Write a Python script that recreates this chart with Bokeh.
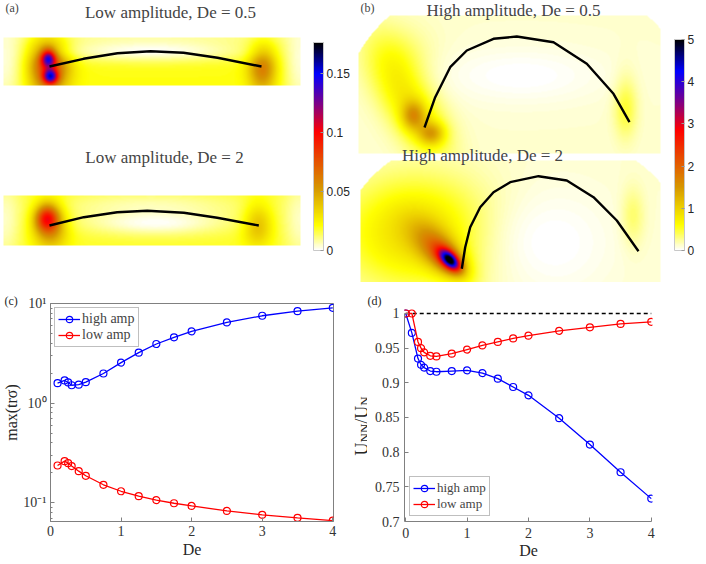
import numpy as np
from bokeh.plotting import figure
from bokeh.models import (LinearColorMapper, ColorBar, FixedTicker, CustomJSTickFormatter,
                          Label, Range1d, Title)
from bokeh.layouts import column, row
from bokeh.embed import file_html
from bokeh.resources import INLINE

# ---------------- data: panel (c) ----------------
de_c = [0.1, 0.2, 0.25, 0.3, 0.4, 0.5, 0.75, 1, 1.25, 1.5, 1.75, 2, 2.5, 3, 3.5, 4]
trs_high = [1.585, 1.686, 1.61, 1.51, 1.53, 1.62, 1.98, 2.55, 3.21, 3.92, 4.57, 5.25,
            6.46, 7.53, 8.38, 9.05]
trs_low = [0.236, 0.261, 0.249, 0.233, 0.207, 0.186, 0.151, 0.130, 0.116, 0.106, 0.0985,
           0.0926, 0.0825, 0.0753, 0.0703, 0.066]
# ---------------- data: panel (d) ----------------
de_d = [0, 0.1, 0.2, 0.25, 0.3, 0.4, 0.5, 0.75, 1, 1.25, 1.5, 1.75, 2, 2.5, 3, 3.5, 4]
u_high = [1.0, 0.972, 0.935, 0.926, 0.922, 0.917, 0.916, 0.917, 0.918, 0.914, 0.906,
          0.894, 0.882, 0.849, 0.811, 0.771, 0.733]
u_low = [1.0, 1.0, 0.959, 0.950, 0.944, 0.939, 0.938, 0.942, 0.948, 0.954, 0.959,
         0.964, 0.968, 0.975, 0.980, 0.985, 0.988]
newtonian = 1.0
series_names = ["high amp", "low amp"]

# ---------------- filament shapes (panel coordinates) ----------------
fil_a1_x = [41, 75, 109, 142, 175, 209, 253]
fil_a1_y = [226, 233.7, 239.3, 241.3, 239.7, 234.7, 226]
fil_a2_x = [41, 75.3, 108.7, 138.7, 175.3, 208.7, 250.3]
fil_a2_y = [67, 75.3, 80.3, 81.7, 79.7, 74.7, 67]
fil_b1_x = [71, 81.7, 96.7, 113.3, 140, 163.3, 200, 233.3, 260, 276]
fil_b1_y = [165, 195.3, 225.3, 242, 253.7, 256, 250.3, 228.7, 198.7, 170.3]
fil_b2_x = [108.3, 111.7, 116.7, 126.7, 140, 156.7, 185, 213.3, 240, 263.3, 285]
fil_b2_y = [23.7, 45.3, 65.3, 85.3, 100.3, 110.3, 116.3, 112, 95.3, 72, 41.3]

# ---------------- stress fields: (cx, cy, amp, sx, sy, angle_deg) ----------------
a1_box = (-5, 292, 207, 255)
a1_base = 0.02
a1_peaks = [(40, 230, 0.065, 14, 22, 0), (40, 235, 0.10, 5, 6, 0), (42, 216, 0.085, 5, 5, 0),
            (254, 226, 0.042, 10, 18, 0)]
a1_holes = [(142, 242, 0.95, 70, 8), (142, 256, 0.5, 140, 7), (-4, 231, 0.8, 14, 40),
            (292, 231, 0.8, 12, 40)]

a2_box = (-5, 292, 47, 97)
a2_base = 0.018
a2_peaks = [(39, 75, 0.07, 8, 9, 0), (42, 67, 0.04, 12, 16, 0), (249, 69, 0.027, 10, 15, 0)]
a2_holes = [(147, 70, 0.95, 50, 9), (142, 87, 0.6, 70, 10), (-4, 72, 0.7, 12, 30),
            (292, 72, 0.7, 12, 30)]

b1_box = (5, 307, 139, 277)
b1_shape = (165, 182, 175, 140)
b1_base = 0.12
b1_peaks = [(57, 190, 0.7, 45, 18, -62), (60, 177, 0.9, 8, 10, 0), (78, 159, 0.9, 9, 8, 0),
            (272, 187, 0.4, 8, 22, 0), (47, 232, 0.2, 25, 25, 0)]
b1_holes = [(168, 217, 1.0, 60, 20)]

b2_box = (7, 307, 10, 132)
b2_shape = (160, 52, 170, 115)
b2_base = 0.12
b2_peaks = [(62, 60, 0.8, 50, 38, 0), (88, 40, 1.2, 24, 12, -45), (95, 33, 1.3, 12, 7, -45),
            (97, 32, 2.8, 8, 4.5, -45), (279, 75, 0.3, 8, 20, 0)]
b2_holes = [(200, 50, 1.0, 45, 40)]

cbar_a = (0.0, 0.176, [0, 0.05, 0.1, 0.15])
cbar_b = (0.0, 5.0, [0, 1, 2, 3, 4, 5])

# ---------------- helpers ----------------
SERIF = "Liberation Serif"
SANS = "Liberation Sans"
stops = [(0.0, (255, 255, 255)), (0.12, (255, 255, 0)), (0.30, (214, 150, 0)),
         (0.45, (232, 70, 0)), (0.57, (255, 0, 0)), (0.70, (130, 0, 130)),
         (0.85, (0, 0, 255)), (1.0, (0, 0, 0))]


def make_palette(n=256):
    fr = np.array([s[0] for s in stops])
    cols = np.array([s[1] for s in stops], dtype=float)
    t = np.linspace(0, 1, n)
    out = []
    for i in range(n):
        rgb = [int(round(np.interp(t[i], fr, cols[:, k]))) for k in range(3)]
        out.append("#%02x%02x%02x" % tuple(rgb))
    return out


PAL = make_palette()


def make_field(box, base, peaks, holes, shape=None):
    x0, x1, y0, y1 = box
    xs = np.arange(x0, x1) + 0.5
    ys = np.arange(y0, y1) + 0.5
    X, Y = np.meshgrid(xs, ys)
    Z = np.full(X.shape, base, dtype=float)
    for cx, cy, amp, sx, sy, ang in peaks:
        a = np.deg2rad(ang)
        dx, dy = X - cx, Y - cy
        u = dx * np.cos(a) + dy * np.sin(a)
        v = -dx * np.sin(a) + dy * np.cos(a)
        Z += amp * np.exp(-(u ** 2 / (2 * sx ** 2) + v ** 2 / (2 * sy ** 2)))
    for cx, cy, depth, sx, sy in holes:
        Z *= 1 - depth * np.exp(-((X - cx) ** 2 / (2 * sx ** 2) + (Y - cy) ** 2 / (2 * sy ** 2)))
    if shape is not None:
        cx, cy, ax, ay = shape
        Z[((X - cx) / ax) ** 2 + ((Y - cy) / ay) ** 2 > 1] = np.nan
    return Z


def draw_field(p, box, Z, mapper):
    x0, x1, y0, y1 = box
    p.image(image=[Z], x=x0, y=y0, dw=x1 - x0, dh=y1 - y0, color_mapper=mapper)


def canvas(w, h, xr, yr, top=0, bottom=0):
    p = figure(width=w, height=h, x_range=Range1d(*xr), y_range=Range1d(*yr),
               x_axis_location=None, y_axis_location=None, toolbar_location=None,
               output_backend="svg", min_border=0, min_border_top=top,
               min_border_bottom=bottom, title=None)
    p.grid.visible = False
    p.outline_line_color = None
    return p


def add_cbar(p, mapper, ticks, loc, height, fmt):
    cb = ColorBar(color_mapper=mapper, location=loc, width=10, height=height,
                  padding=0, margin=0, ticker=FixedTicker(ticks=ticks),
                  formatter=CustomJSTickFormatter(code=fmt),
                  major_label_text_font=SANS, major_label_text_font_size="12px",
                  major_label_text_color="#262626", label_standoff=3,
                  major_tick_line_color="#999999", major_tick_in=3, major_tick_out=0,
                  bar_line_color="#c8c8c8", border_line_color=None,
                  background_fill_color=None)
    p.add_layout(cb)


map_a = LinearColorMapper(palette=PAL, low=cbar_a[0], high=cbar_a[1], nan_color=(0, 0, 0, 0))
map_b = LinearColorMapper(palette=PAL, low=cbar_b[0], high=cbar_b[1], nan_color=(0, 0, 0, 0))

TOP_H = 282
# ---------------- panel (a) ----------------
fa = canvas(353, TOP_H, (-8, 345), (10, 292))
draw_field(fa, a1_box, make_field(a1_box, a1_base, a1_peaks, a1_holes), map_a)
draw_field(fa, a2_box, make_field(a2_box, a2_base, a2_peaks, a2_holes), map_a)
fa.line(fil_a1_x, fil_a1_y, line_color="black", line_width=2.4)
fa.line(fil_a2_x, fil_a2_y, line_color="black", line_width=2.4)
fa.add_layout(Label(x=162, y=280, text="Low amplitude, De = 0.5", text_font=SERIF,
                    text_font_size="17px", text_align="center", text_baseline="middle"))
fa.add_layout(Label(x=156, y=135, text="Low amplitude, De = 2", text_font=SERIF,
                    text_font_size="17px", text_align="center", text_baseline="middle"))
fa.add_layout(Label(x=-3, y=284.5, text="(a)", text_font=SERIF, text_font_size="12px",
                    text_align="left", text_baseline="middle"))
add_cbar(fa, map_a, cbar_a[2], (313, 32), 208,
         "return tick === 0 ? '0' : String(Math.round(tick*100)/100);")

# ---------------- panel (b) ----------------
fb = canvas(353, TOP_H, (0, 353), (10, 292))
draw_field(fb, b1_box, make_field(b1_box, b1_base, b1_peaks, b1_holes, b1_shape), map_b)
draw_field(fb, b2_box, make_field(b2_box, b2_base, b2_peaks, b2_holes, b2_shape), map_b)
fb.line(fil_b1_x, fil_b1_y, line_color="black", line_width=2.4)
fb.line(fil_b2_x, fil_b2_y, line_color="black", line_width=2.4)
fb.add_layout(Label(x=160, y=282, text="High amplitude, De = 0.5", text_font=SERIF,
                    text_font_size="17px", text_align="center", text_baseline="middle"))
fb.add_layout(Label(x=129, y=137, text="High amplitude, De = 2", text_font=SERIF,
                    text_font_size="17px", text_align="center", text_baseline="middle"))
fb.add_layout(Label(x=7, y=284.5, text="(b)", text_font=SERIF, text_font_size="12px",
                    text_align="left", text_baseline="middle"))
add_cbar(fb, map_b, cbar_b[2], (321, 32), 211, "return String(tick);")


# ---------------- axes styling ----------------
def style_axes(p, tick_size):
    for ax in p.axis:
        ax.axis_line_color = "#808080"
        ax.major_tick_line_color = "#808080"
        ax.minor_tick_line_color = "#808080"
        ax.major_tick_in = 4
        ax.major_tick_out = 0
        ax.minor_tick_in = 2
        ax.minor_tick_out = 0
        ax.major_label_text_font = SERIF
        ax.major_label_text_font_size = tick_size
        ax.major_label_text_color = "#333333"
        ax.axis_label_text_font = SERIF
        ax.axis_label_text_font_size = "16px"
        ax.axis_label_text_font_style = "normal"
        ax.axis_label_text_color = "#262626"
    p.grid.visible = False


def style_legend(p, loc, size, margin):
    lg = p.legend[0]
    lg.location = loc
    lg.margin = margin
    lg.padding = 3
    lg.spacing = 0
    lg.label_text_font = SERIF
    lg.label_text_font_size = size
    lg.label_height = 16
    lg.glyph_height = 16
    lg.glyph_width = 22
    lg.label_standoff = 2
    lg.border_line_color = "#808080"
    lg.background_fill_alpha = 1.0


def panel_title(text, offset):
    return Title(text=text, align="left", offset=offset, standoff=-9,
                 text_font=SERIF, text_font_size="12px", text_font_style="normal",
                 text_color="#262626")


colors = ["#0000ff", "#ff0000"]
BOT_H = 564 - TOP_H
B_TOP, B_BOT = 21, 43   # shared frame borders of the lower row

# ---------------- panel (c) ----------------
fc = figure(width=345, height=BOT_H, y_axis_type="log", x_range=Range1d(0, 4.01),
            y_range=Range1d(0.0646, 10), min_border_left=49, min_border_right=12,
            min_border_top=B_TOP, min_border_bottom=B_BOT, toolbar_location=None,
            output_backend="svg", title=panel_title("(c)", -46))
for ys, c, nm in zip([trs_high, trs_low], colors, series_names):
    fc.line(de_c, ys, line_color=c, line_width=1.3, legend_label=nm)
    fc.scatter(de_c, ys, marker="circle", size=7, fill_color=None, line_color=c,
               line_width=1.2, legend_label=nm)
fc.xaxis.ticker = FixedTicker(ticks=[0, 1, 2, 3, 4])
fc.yaxis.ticker = FixedTicker(ticks=[0.1, 1, 10],
                              minor_ticks=[0.07, 0.08, 0.09, 0.2, 0.3, 0.4, 0.5, 0.6, 0.7,
                                           0.8, 0.9, 2, 3, 4, 5, 6, 7, 8, 9])
fc.yaxis.formatter = CustomJSTickFormatter(code="""
const e = Math.round(Math.log10(tick));
const s = {'-1': '\u207b\u00b9', '0': '\u2070', '1': '\u00b9'};
return '10' + s[String(e)];""")
fc.xaxis.axis_label = "De"
fc.yaxis.axis_label = "max(trσ)"
style_axes(fc, "14px")
fc.xaxis.major_label_standoff = 4
fc.xaxis.axis_label_standoff = 2
fc.yaxis.major_label_standoff = 4
fc.yaxis.axis_label_standoff = 0
fc.xaxis.minor_tick_line_color = None
fc.outline_line_color = "#808080"
style_legend(fc, "top_left", "14px", 4)

# ---------------- y label strip for panel (d): U_NN / U_N ----------------
fl = canvas(22, BOT_H, (0, 22), (B_BOT, BOT_H - B_TOP), top=B_TOP, bottom=B_BOT)
ylab_parts = [("U", "18px", 16, 109), ("NN", "13px", 19, 122), ("/", "18px", 16, 140.8),
              ("U", "18px", 16, 145.8), ("N", "13px", 19, 158.8)]
for txt, fs, lx, ly in ylab_parts:
    fl.add_layout(Label(x=lx, y=ly, text=txt, angle=np.pi / 2, text_font=SERIF,
                        text_font_size=fs, text_color="#262626", text_align="left",
                        text_baseline="alphabetic"))

# ---------------- panel (d) ----------------
fd = figure(width=339, height=BOT_H, x_range=Range1d(-0.02, 4.02),
            y_range=Range1d(0.7, 1.0144), min_border_left=37, min_border_right=54,
            min_border_top=B_TOP, min_border_bottom=B_BOT, toolbar_location=None,
            output_backend="svg", title=panel_title("(d)", -37))
fd.line([de_d[0], de_d[-1]], [newtonian, newtonian], line_color="black", line_width=1.4,
        line_dash="4 3")
for ys, c, nm in zip([u_high, u_low], colors, series_names):
    fd.line(de_d, ys, line_color=c, line_width=1.3, legend_label=nm)
    fd.scatter(de_d, ys, marker="circle", size=7, fill_color=None, line_color=c,
               line_width=1.2, legend_label=nm)
fd.xaxis.ticker = FixedTicker(ticks=[0, 1, 2, 3, 4])
fd.yaxis.ticker = FixedTicker(ticks=[0.7, 0.75, 0.8, 0.85, 0.9, 0.95, 1.0])
fd.yaxis.formatter = CustomJSTickFormatter(
    code="return tick.toFixed(2).replace(/0+$/, '').replace(/\\.$/, '');")
fd.xaxis.axis_label = "De"
style_axes(fd, "14px")
fd.xaxis.major_label_standoff = 6
fd.xaxis.axis_label_standoff = 1
fd.yaxis.major_label_standoff = 5
fd.xaxis.bounds = (de_d[0], de_d[-1])
fd.yaxis.bounds = (0.7, newtonian)
fd.xaxis.minor_tick_line_color = None
fd.yaxis.minor_tick_line_color = None
fd.outline_line_color = None
style_legend(fd, "bottom_left", "13px", 5)

layout = column(row(fa, fb), row(fc, fl, fd))
open("out.html", "w").write(file_html(layout, INLINE))
